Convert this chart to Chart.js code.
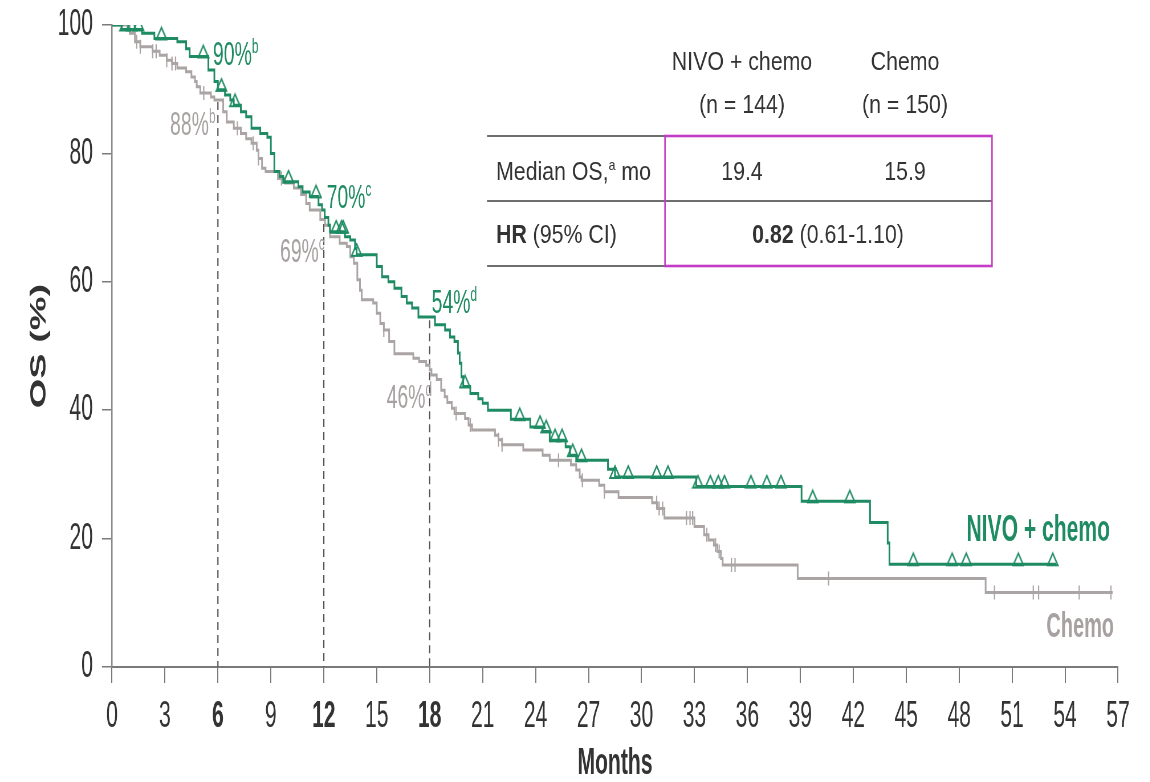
<!DOCTYPE html>
<html>
<head>
<meta charset="utf-8">
<script src="https://cdn.jsdelivr.net/npm/chart.js@4.4.0/dist/chart.umd.min.js"></script>
<style>
  html, body { margin: 0; padding: 0; background: #fff; overflow: hidden; }
  /* the original artwork is horizontally condensed, so the chart is drawn wide and squeezed */
  #chart { display: block; transform: scaleX(0.57); transform-origin: 0 0; }
</style>
</head>
<body>
<canvas id="chart" width="2018" height="782"></canvas>
<script>
const SQUISH = 0.57;
const FAMILY = '"Liberation Sans", Arial, sans-serif';

// KM curve, NIVO + chemo (months, OS %)
const nivoTimes = [0, 0.55, 1.7, 2.4, 3.7, 4.2, 4.4, 5.46, 5.8, 6.0,
  6.4, 6.7, 6.9, 7.3, 7.6, 7.9, 8.4, 8.8, 9.0, 9.2,
  9.5, 9.7, 10.56, 10.8, 11.2, 11.7, 11.9, 12.05, 12.26, 12.35,
  13.2, 13.5, 13.77, 13.86, 15.0, 15.3, 15.66, 16.0, 16.4, 16.7,
  17.0, 17.36, 18.3, 18.87, 19.15, 19.4, 19.6, 19.7, 19.8, 19.9,
  20.3, 20.75, 21.0, 21.3, 22.6, 23.7, 24.4, 24.8, 25.7, 25.95,
  26.3, 28.1, 28.5, 33.1, 39.07, 42.95, 43.95, 44.05, 53.5];
const nivoOS = [100, 99.3, 98.7, 97.9, 97.4, 96.3, 95.1, 93.0, 91.2, 89.9,
  89.1, 88.3, 87.5, 86.5, 85.7, 83.9, 83.1, 82.5, 80.0, 77.2,
  76.4, 75.6, 74.8, 74.0, 73.3, 72.0, 71.2, 70.0, 68.8, 67.8,
  67.0, 66.5, 65.2, 64.2, 62.4, 60.8, 60.0, 59.0, 57.7, 56.7,
  55.9, 54.5, 53.3, 52.5, 51.4, 50.7, 48.9, 47.3, 45.2, 43.7,
  42.6, 41.8, 41.1, 40.0, 38.6, 37.4, 36.7, 35.3, 34.3, 33.0,
  32.2, 30.8, 29.6, 28.1, 25.8, 22.5, 19.3, 16.0, 16.0];
const nivoCensor = [0.74, 1.1, 1.5, 2.8, 5.17, 6.2, 6.97, 10.0, 11.56, 12.7,
  13.0, 13.1, 13.86, 20.0, 23.1, 24.25, 24.6, 25.1, 25.5, 26.1,
  26.6, 28.5, 29.25, 30.86, 31.5, 33.2, 33.9, 34.35, 34.7, 36.2,
  37.1, 37.9, 39.7, 41.8, 45.4, 47.6, 48.4, 51.35, 53.3];

// KM curve, Chemo
const chemoTimes = [0, 1.0, 1.3, 1.6, 2.3, 2.7, 3.1, 3.4, 3.7, 4.2,
  4.5, 4.7, 4.8, 5.0, 5.6, 5.8, 6.3, 6.5, 6.9, 7.3,
  7.6, 7.9, 8.2, 8.3, 8.5, 8.7, 9.4, 9.8, 10.3, 10.7,
  11.0, 11.2, 11.8, 12.07, 12.35, 12.9, 13.3, 13.5, 13.7, 13.9,
  14.05, 14.15, 14.8, 15.0, 15.2, 15.4, 15.7, 16.0, 17.07, 17.4,
  17.8, 18.0, 18.1, 18.4, 18.65, 18.85, 19.0, 19.25, 19.4, 20.0,
  20.2, 20.4, 21.7, 21.9, 22.1, 23.3, 24.4, 24.8, 26.0, 26.3,
  26.5, 26.6, 27.6, 27.9, 28.7, 30.6, 30.9, 31.3, 33.0, 33.55,
  33.8, 34.1, 34.3, 34.5, 34.6, 38.85, 49.5, 56.7];
const chemoOS = [100, 98.7, 97.4, 96.6, 95.9, 95.3, 94.5, 94.0, 93.3, 92.7,
  91.9, 91.2, 90.4, 89.4, 88.8, 88.3, 86.5, 84.9, 83.9, 83.1,
  82.3, 81.6, 80.5, 79.2, 77.7, 77.2, 76.1, 75.4, 74.6, 73.6,
  72.2, 71.2, 69.7, 68.8, 67.0, 66.0, 65.5, 63.9, 62.9, 60.3,
  58.7, 57.2, 56.7, 55.1, 53.5, 52.5, 50.7, 48.8, 48.1, 47.6,
  47.0, 46.3, 45.5, 44.8, 43.1, 42.1, 41.2, 40.3, 39.5, 38.7,
  37.7, 36.9, 36.1, 35.4, 34.6, 33.8, 33.0, 32.2, 31.5, 30.7,
  29.6, 29.1, 28.3, 27.3, 26.4, 25.6, 24.7, 23.2, 21.9, 20.6,
  19.8, 19.0, 18.0, 16.9, 15.9, 13.8, 11.6, 11.6];
const chemoCensor = [1.4, 1.6, 2.3, 2.5, 3.1, 3.4, 3.6, 5.2, 7.1, 8.0,
  8.3, 9.6, 15.4, 19.5, 20.3, 21.9, 22.1, 25.3, 26.65, 27.9,
  30.86, 31.0, 31.2, 32.55, 32.75, 32.9, 33.7, 34.2, 34.4, 35.1,
  35.3, 40.6, 50.0, 52.2, 52.5, 54.8, 56.6];

// landmark rates
const landmarkMonths = [6, 12, 18];
const nivoLandmark = ['90%', '70%', '54%'];
const chemoLandmark = ['88%', '69%', '46%'];
const landmarkNotes = ['b', 'c', 'd'];
const landmarkTop = [88, 69, 54];
const boldMonths = [6, 12, 18];

// summary table
const armNames = ['NIVO + chemo', 'Chemo'];
const armN = ['(n = 144)', '(n = 150)'];
const medianOS = ['19.4', '15.9'];
const hrValue = '0.82';
const hrCI = '(0.61-1.10)';

const GREEN = '#1e8b63';
const GREY = '#aba4a4';
const GREY_TEXT = '#a7a1a1';
const DARK = '#333333';

const toXY = (ts, vs) => ts.map((t, i) => ({ x: t, y: vs[i] }));
function survAt(ts, vs, t) {
  let v = vs[0];
  for (let i = 0; i < ts.length; i++) if (ts[i] <= t) v = vs[i];
  return v;
}
const censorXY = (cs, ts, vs) => cs.map(t => ({ x: t, y: survAt(ts, vs, t) }));

function makeTriangle(color) {
  const c = document.createElement('canvas');
  c.width = 22; c.height = 26;
  const g = c.getContext('2d');
  g.strokeStyle = color;
  g.lineWidth = 2.2;
  g.beginPath();
  g.moveTo(11, 2); g.lineTo(20, 14); g.lineTo(2, 14); g.closePath();
  g.stroke();
  return c;
}

// draw a run of text pieces; x in screen px (before squeeze), sx = extra horizontal scale
function drawRuns(ctx, runs, ax, y, align, sx) {
  ctx.save();
  ctx.textBaseline = 'alphabetic';
  ctx.textAlign = 'left';
  let total = 0;
  runs.forEach(r => {
    ctx.font = `${r.weight || 'normal'} ${r.size}px ${FAMILY}`;
    r.w = ctx.measureText(r.t).width * sx;
    total += r.w;
  });
  let x = ax / SQUISH;
  if (align === 'center') x -= total / 2;
  if (align === 'right') x -= total;
  runs.forEach(r => {
    ctx.font = `${r.weight || 'normal'} ${r.size}px ${FAMILY}`;
    ctx.fillStyle = r.color;
    ctx.save();
    ctx.translate(x, y + (r.dy || 0));
    ctx.scale(sx, 1);
    ctx.fillText(r.t, 0, 0);
    ctx.restore();
    x += r.w;
  });
  ctx.restore();
}

const overlay = {
  id: 'overlay',
  beforeDatasetsDraw(chart) {
    const { ctx, scales: { x, y } } = chart;
    ctx.save();
    ctx.strokeStyle = '#555';
    ctx.lineWidth = 2.2;
    ctx.setLineDash([8, 5]);
    landmarkMonths.forEach((m, i) => {
      ctx.beginPath();
      ctx.moveTo(x.getPixelForValue(m), y.getPixelForValue(landmarkTop[i]));
      ctx.lineTo(x.getPixelForValue(m), y.getPixelForValue(0));
      ctx.stroke();
    });
    ctx.restore();
  },
  afterDraw(chart) {
    const { ctx, scales: { x, y } } = chart;
    const px = v => x.getPixelForValue(v) * SQUISH;

    // landmark labels
    const nivoAt = [[5.72, 93.8], [12.16, 71.5], [18.11, 55.1]];
    const chemoAt = [[3.29, 82.9], [9.52, 63.1], [15.56, 40.3]];
    landmarkMonths.forEach((m, i) => {
      drawRuns(ctx, [
        { t: nivoLandmark[i], size: 34, color: GREEN },
        { t: landmarkNotes[i], size: 21, color: GREEN, dy: -12 }
      ], px(nivoAt[i][0]), y.getPixelForValue(nivoAt[i][1]), 'left', 1);
      drawRuns(ctx, [
        { t: chemoLandmark[i], size: 34, color: GREY_TEXT },
        { t: landmarkNotes[i], size: 21, color: GREY_TEXT, dy: -12 }
      ], px(chemoAt[i][0]), y.getPixelForValue(chemoAt[i][1]), 'left', 1);
    });

    // curve labels
    drawRuns(ctx, [{ t: armNames[0], size: 37, weight: 'bold', color: GREEN }], 1110, 541, 'right', 1);
    drawRuns(ctx, [{ t: armNames[1], size: 35, weight: 'bold', color: GREY_TEXT }], 1114, 637, 'right', 1);

    // summary table
    const sx = 0.82 / SQUISH;
    const colX = [742, 905];
    ctx.save();
    ctx.strokeStyle = '#6e6e6e';
    ctx.lineWidth = 2;
    const hline = (x1, x2, yy) => {
      ctx.beginPath(); ctx.moveTo(x1 / SQUISH, yy); ctx.lineTo(x2 / SQUISH, yy); ctx.stroke();
    };
    hline(487, 665, 136);
    hline(487, 992, 201);
    hline(487, 665, 266);
    ctx.strokeStyle = '#c23cc6';
    ctx.lineWidth = 2.6;
    ctx.strokeRect(665 / SQUISH, 136, (992 - 665) / SQUISH, 130);
    ctx.restore();

    armNames.forEach((n, i) => {
      drawRuns(ctx, [{ t: n, size: 26, color: DARK }], colX[i], 70, 'center', sx);
      drawRuns(ctx, [{ t: armN[i], size: 26, color: DARK }], colX[i], 113, 'center', sx);
      drawRuns(ctx, [{ t: medianOS[i], size: 26, color: DARK }], colX[i], 180, 'center', sx);
    });
    drawRuns(ctx, [
      { t: 'Median OS,', size: 26, color: DARK },
      { t: 'a', size: 15, color: DARK, dy: -10 },
      { t: ' mo', size: 26, color: DARK }
    ], 496, 180, 'left', sx);
    drawRuns(ctx, [
      { t: 'HR', size: 26, weight: 'bold', color: DARK },
      { t: ' (95% CI)', size: 26, color: DARK }
    ], 496, 243, 'left', sx);
    drawRuns(ctx, [
      { t: hrValue, size: 26, weight: 'bold', color: DARK },
      { t: ' ' + hrCI, size: 26, color: DARK }
    ], 828, 243, 'center', sx);
  }
};

new Chart(document.getElementById('chart'), {
  type: 'line',
  data: {
    datasets: [
      {
        label: 'NIVO + chemo',
        data: toXY(nivoTimes, nivoOS),
        borderColor: GREEN,
        borderWidth: 3,
        stepped: true,
        pointRadius: 0,
        fill: false
      },
      {
        type: 'scatter',
        label: 'NIVO + chemo censored',
        data: censorXY(nivoCensor, nivoTimes, nivoOS),
        pointStyle: makeTriangle(GREEN),
        pointRadius: 6
      },
      {
        label: 'Chemo',
        data: toXY(chemoTimes, chemoOS),
        borderColor: GREY,
        borderWidth: 3,
        stepped: true,
        pointRadius: 0,
        fill: false
      },
      {
        type: 'scatter',
        label: 'Chemo censored',
        data: censorXY(chemoCensor, chemoTimes, chemoOS),
        pointStyle: 'line',
        rotation: 90,
        pointRadius: 7,
        borderColor: GREY,
        borderWidth: 2.2
      }
    ]
  },
  options: {
    responsive: false,
    animation: false,
    layout: { padding: { top: 25, right: 2018 - 1118 / SQUISH, bottom: 0, left: 0 } },
    plugins: {
      legend: { display: false },
      tooltip: { enabled: false }
    },
    scales: {
      x: {
        type: 'linear',
        min: 0,
        max: 57,
        ticks: {
          stepSize: 3,
          padding: 12,
          color: DARK,
          font: ctx => ({
            family: FAMILY,
            size: 37,
            weight: ctx.tick && boldMonths.includes(ctx.tick.value) ? 'bold' : 'normal'
          })
        },
        grid: { drawOnChartArea: false, tickLength: 16, color: '#7a7a7a', lineWidth: 2 },
        border: { color: '#7a7a7a', width: 2 },
        title: {
          display: true,
          text: 'Months',
          color: '#333',
          font: { family: FAMILY, size: 37, weight: 'bold', lineHeight: 1.0 },
          padding: { top: 0, bottom: 0 }
        },
        afterFit: s => { s.height = 115; }
      },
      y: {
        min: 0,
        max: 100,
        ticks: { stepSize: 20, padding: 16, color: DARK, font: { family: FAMILY, size: 37 } },
        grid: { drawOnChartArea: false, tickLength: 17.5, color: '#7a7a7a', lineWidth: 1.5 },
        border: { color: '#8a8a8a', width: 2.5 },
        title: {
          display: true,
          text: 'OS (%)',
          color: '#333',
          font: { family: FAMILY, size: 38, weight: 'bold', lineHeight: 1.0 },
          padding: { top: 51, bottom: 0 }
        },
        afterFit: s => {
          s.width = 112 / SQUISH;
          // the label overhang must not push the plot below the top margin
          s.paddingTop = 20;
        }
      }
    }
  },
  plugins: [overlay]
});
</script>
</body>
</html>
